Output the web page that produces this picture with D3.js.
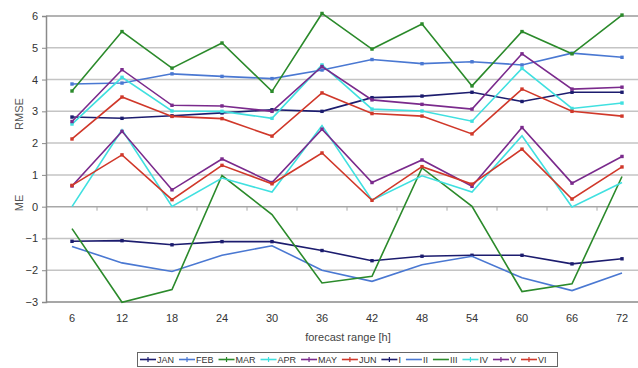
<!DOCTYPE html>
<html><head><meta charset="utf-8">
<script src="https://cdn.jsdelivr.net/npm/d3@7"></script>
<style>
html,body{margin:0;padding:0;background:#fff;}
svg{display:block;font-family:"Liberation Sans",Arial,sans-serif;}
</style></head>
<body><svg id="c" width="638" height="368"></svg>
<script>
const hours = ["6","12","18","24","30","36","42","48","54","60","66","72"];
const yTicks = [6,5,4,3,2,1,0,-1,-2,-3];
// RMSE series (upper group)
const JAN = [2.82,2.78,2.86,2.95,3.05,3.0,3.43,3.48,3.6,3.31,3.6,3.6];
const FEB = [3.86,3.89,4.18,4.1,4.03,4.3,4.63,4.5,4.56,4.46,4.83,4.7];
const MAR = [3.64,5.51,4.36,5.15,3.63,6.08,4.96,5.75,3.8,5.51,4.81,6.03];
const APR = [2.6,4.07,3.01,3.0,2.78,4.46,3.07,3.01,2.69,4.35,3.09,3.26];
const MAY = [2.68,4.31,3.19,3.17,3.0,4.41,3.36,3.22,3.07,4.81,3.7,3.76];
const JUN = [2.13,3.45,2.84,2.77,2.22,3.58,2.93,2.85,2.29,3.7,3.0,2.85];
// ME series (lower group)
const I   = [-1.09,-1.07,-1.2,-1.1,-1.1,-1.38,-1.7,-1.56,-1.53,-1.53,-1.8,-1.64];
const II  = [-1.25,-1.77,-2.04,-1.53,-1.23,-2.0,-2.35,-1.83,-1.56,-2.24,-2.64,-2.09];
const III = [-0.69,-3.01,-2.61,0.98,-0.25,-2.4,-2.19,1.22,0.01,-2.67,-2.43,0.95];
const IV  = [0.0,2.42,0.01,0.9,0.46,2.55,0.2,0.97,0.46,2.23,-0.01,0.76];
const V   = [0.65,2.37,0.53,1.5,0.76,2.44,0.76,1.47,0.64,2.49,0.74,1.58];
const VI  = [0.67,1.63,0.22,1.3,0.72,1.69,0.2,1.26,0.71,1.81,0.24,1.25];

const names = ["JAN","FEB","MAR","APR","MAY","JUN","I","II","III","IV","V","VI"];
const values = [JAN,FEB,MAR,APR,MAY,JUN,I,II,III,IV,V,VI];
const colors = ["#1c1c6e","#4a78d2","#2b8a2b","#40e0e0","#7a2a8c","#d0382a",
                "#1c1c6e","#4a78d2","#2b8a2b","#40e0e0","#7a2a8c","#d0382a"];
const markers = [true,true,true,true,true,true,true,false,false,false,true,true];
const legendMarks = [true,true,true,true,true,true,true,false,false,true,true,true];

const svg = d3.select("#c");
const x = d3.scaleBand().domain(hours).range([47,647]);
const y = d3.scaleLinear().domain([-3,6]).range([302,16]);
const cx = d => x(d) + x.bandwidth()/2;

// gridlines
svg.append("g").selectAll("line").data(yTicks.filter(v=>v!==-3 && v!==0)).join("line")
  .attr("x1",46).attr("x2",638).attr("y1",d=>y(d)).attr("y2",d=>y(d))
  .attr("stroke", d=> d===6 ? "#9a9a9a" : "#c4c4c4").attr("stroke-width",1.5);
// zero line with tick marks
svg.append("line").attr("x1",46).attr("x2",638).attr("y1",y(0)).attr("y2",y(0))
  .attr("stroke","#a8a8a8").attr("stroke-width",1.5);
svg.append("g").selectAll("line").data(hours.slice(1)).join("line")
  .attr("x1",d=>x(d)).attr("x2",d=>x(d)).attr("y1",y(0)).attr("y2",y(0)+4)
  .attr("stroke","#a8a8a8").attr("stroke-width",1);
// bottom axis line
svg.append("line").attr("x1",46).attr("x2",638).attr("y1",y(-3)).attr("y2",y(-3))
  .attr("stroke","#8a8a8a").attr("stroke-width",1.5);

// y axis
const yAxis = d3.axisLeft(y).tickValues(yTicks).tickSize(4).tickFormat(d3.format("d"));
const ga = svg.append("g").attr("transform","translate(46,0)").call(yAxis);
ga.select(".domain").attr("stroke","#8a8a8a").attr("stroke-width",1.5);
ga.selectAll(".tick line").attr("stroke","#8a8a8a");
ga.selectAll(".tick text").attr("font-size",11).attr("fill","#333").attr("x",-8)
  .attr("font-family","Liberation Sans, Arial, sans-serif");

// x axis labels
const xAxis = d3.axisBottom(x).tickSize(0).tickPadding(12);
const gx = svg.append("g").attr("transform",`translate(0,${y(-3)})`).call(xAxis);
gx.select(".domain").remove();
gx.selectAll(".tick text").attr("font-size",11).attr("fill","#333")
  .attr("font-family","Liberation Sans, Arial, sans-serif");

// titles
svg.append("text").attr("x",348).attr("y",341).attr("text-anchor","middle")
  .attr("font-size",11).attr("fill","#444").text("forecast range [h]");
svg.append("text").attr("transform","translate(23,114) rotate(-90)").attr("text-anchor","middle")
  .attr("font-size",11).attr("fill","#555").text("RMSE");
svg.append("text").attr("transform","translate(23,203) rotate(-90)").attr("text-anchor","middle")
  .attr("font-size",11).attr("fill","#555").text("ME");

// series
const line = d3.line().x((d,i)=>cx(hours[i])).y(d=>y(d));
const order = [6,7,8,9,10,11,0,1,2,3,4,5];
order.forEach(k=>{
  const g = svg.append("g");
  g.append("path").attr("d",line(values[k])).attr("fill","none")
    .attr("stroke",colors[k]).attr("stroke-width",1.6).attr("stroke-linejoin","miter");
  if(markers[k]){
    g.selectAll("rect").data(values[k]).join("rect")
      .attr("x",(d,i)=>cx(hours[i])-1.7).attr("y",d=>y(d)-1.7)
      .attr("width",3.4).attr("height",3.4).attr("fill",colors[k]);
  }
});

// legend
const lg = svg.append("g");
const box = lg.append("rect").attr("x",137.5).attr("y",352.5).attr("width",420).attr("height",14)
  .attr("fill","#fff").attr("stroke","#666").attr("stroke-width",1);
let lx = 140;
const ly = 359.5;
names.forEach((n,k)=>{
  lg.append("line").attr("x1",lx).attr("x2",lx+16).attr("y1",ly).attr("y2",ly)
    .attr("stroke",colors[k]).attr("stroke-width",1.6);
  if(legendMarks[k]){
    lg.append("line").attr("x1",lx+8).attr("x2",lx+8).attr("y1",ly-2.5).attr("y2",ly+2.5)
      .attr("stroke",colors[k]).attr("stroke-width",1.2);
  }
  const t = lg.append("text").attr("x",lx+17).attr("y",ly+3.3).attr("font-size",9)
    .attr("fill","#333").text(n);
  const w = t.node().getComputedTextLength();
  lx += 17 + w + 5;
});
box.attr("width", Math.max(lx - 137.5, 420));
</script></body></html>
